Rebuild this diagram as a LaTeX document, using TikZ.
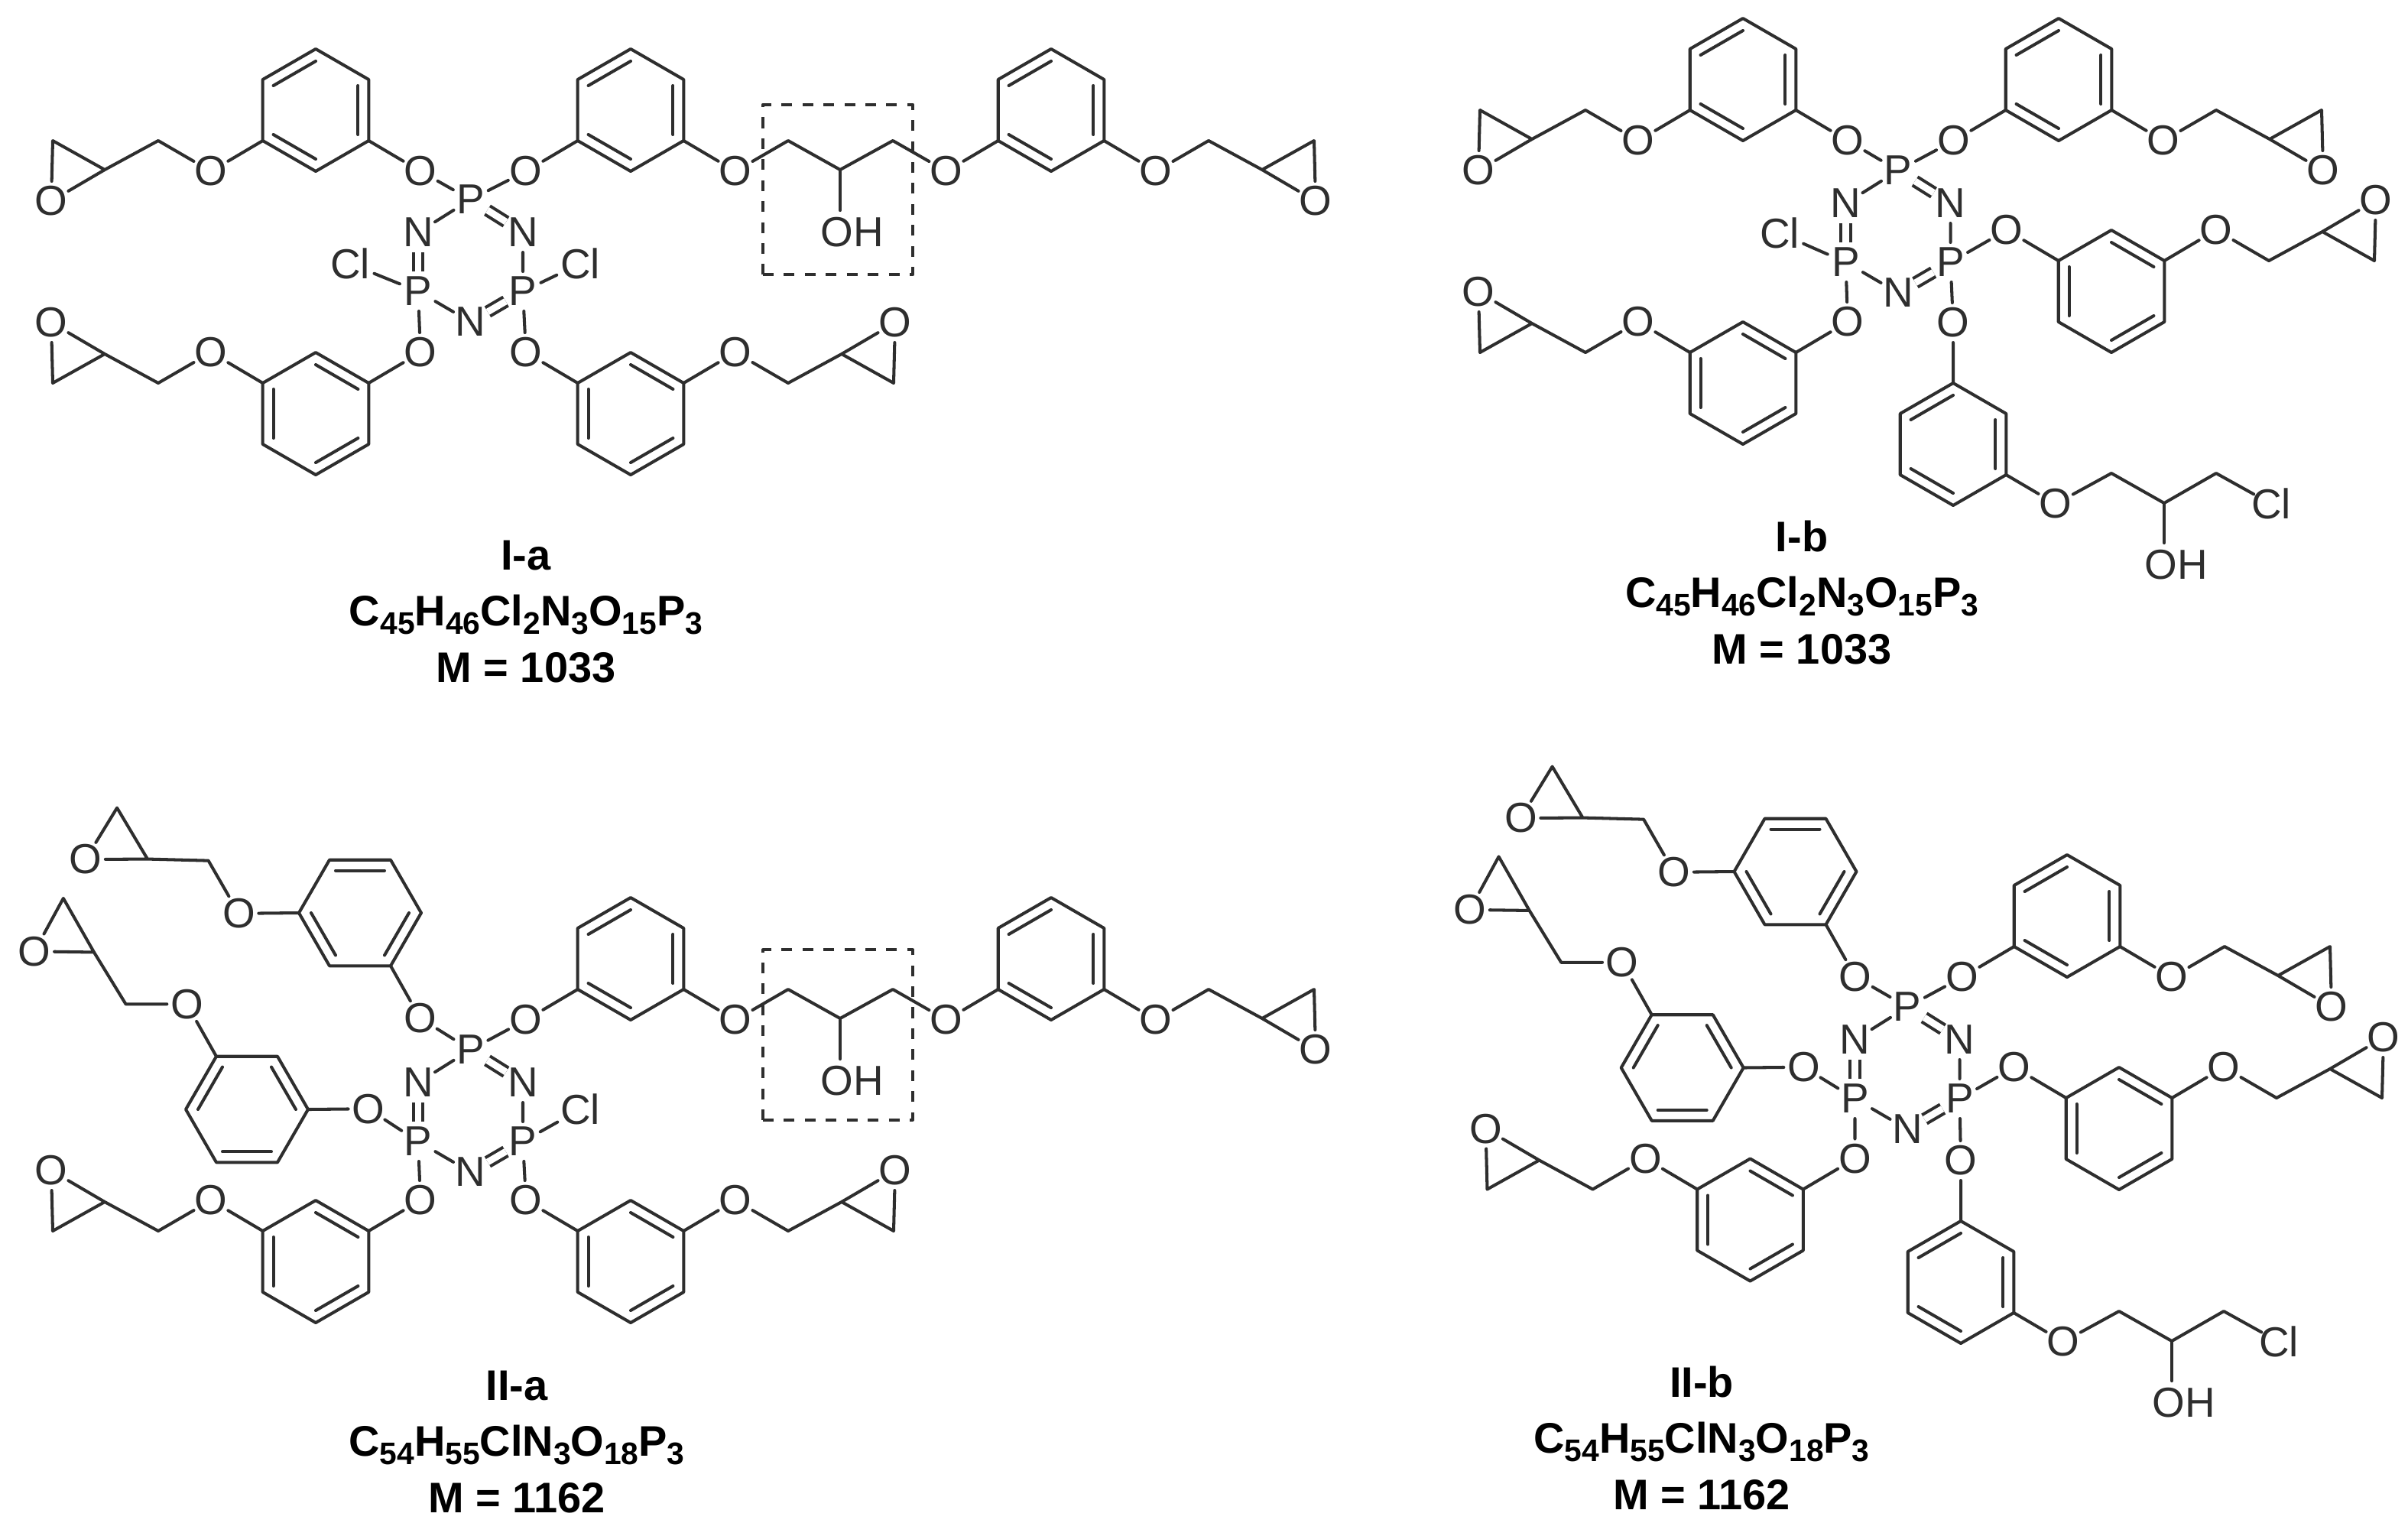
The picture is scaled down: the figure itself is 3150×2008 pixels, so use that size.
\documentclass[tikz,border=0pt]{standalone}
\usepackage{fontspec}
\setmainfont{Liberation Sans}
\definecolor{inkline}{gray}{0.18}
\tikzset{
	bond/.style={draw=inkline, line width=1.15pt},
	dbl/.style={bond, line cap=butt, double=white, double distance=2.5pt},
	atom/.style={circle, inner sep=-2pt, outer sep=0pt, minimum size=0.52cm, text=inkline, font=\fontsize{15.6}{18}\selectfont},
	chlor/.style={atom, minimum size=0.68cm},
	hydroxy/.style={inner sep=2.5pt, text=inkline, font=\fontsize{15.6}{18}\selectfont},
	dashbox/.style={draw=inkline, line width=1.15pt, line cap=butt, dash pattern=on 4pt off 3.8pt, minimum width=1.96cm, minimum height=2.22cm},
	molcap/.style={anchor=base, inner sep=0pt, font=\fontsize{15.9}{20}\selectfont\bfseries},
}
\newcommand{\sbs}[1]{\raisebox{-0.2em}{\fontsize{11.6}{14}\selectfont #1}}
\def\dbA{-30,90,210} \def\dbB{30,150,270} % inner lines of the ring
\newcommand{\benzring}[2]{
	\foreach \a in {30,90,...,330} \coordinate (#1v\a) at (\a:80);
	\draw[bond] (#1v30)--(#1v90)--(#1v150)--(#1v210)--(#1v270)--(#1v330)--cycle;
	\foreach \a in #2 \draw[bond] (\a:64)--(\a+60:64);
}
% name, ring centre, transform, inner lines, epoxide O corner, epoxide C corner
\newcommand{\epoxyarm}[6]{
	\begin{scope}[shift={#2},#3]
		\benzring{#1}{#4}
		\node[atom] (#1a) at (137,80) {O};
		\node[atom] (#1b) at (-137,80) {O};
		\coordinate (#1c) at (-206,40);
		\coordinate (#1d) at (-276,78);
		\coordinate (#1p) at (-344,40);
		\coordinate (#1q) at (-346,119);
		\node[atom] (#1e) at (#1#5) {O};
		\coordinate (#1f) at (#1#6);
		\draw[bond] (#1v30)--(#1a) (#1v150)--(#1b)--(#1c)--(#1d)--(#1f)--(#1e)--(#1d);
	\end{scope}
}
% name, ring centre, O of the next ring
\newcommand{\hydroxylink}[3]{
	\begin{scope}[shift={#2},xscale=-1]
		\benzring{#1}{\dbB}
		\node[atom] (#1a) at (137,80) {O};
		\node[atom] (#1b) at (-137,80) {O};
		\coordinate (#1c) at (-206,40);
		\coordinate (#1d) at (-274,78);
		\coordinate (#1e) at (-343,40);
		\node[hydroxy] (#1h) at (-290,160) {OH};
		\draw[bond] (#1v30)--(#1a) (#1v150)--(#1b)--(#1c)--(#1d)--(#1e)--(#3);
		\draw[bond] (#1d)--(#1d |- #1h.north);
	\end{scope}
}
% name, ring centre
\newcommand{\chloroarm}[2]{
	\begin{scope}[shift={#2}]
		\benzring{#1}{\dbA}
		\node[atom] (#1a) at (0,-159) {O};
		\node[atom] (#1b) at (134,78) {O};
		\coordinate (#1c) at (207,38);
		\coordinate (#1d) at (276,77);
		\coordinate (#1e) at (344,38);
		\node[atom] (#1g) at (416,78) {Cl};
		\node[hydroxy] (#1h) at (292,158) {OH};
		\draw[bond] (#1v270)--(#1a) (#1v30)--(#1b)--(#1c)--(#1d)--(#1e)--(#1g);
		\draw[bond] (#1d)--(#1d |- #1h.north);
	\end{scope}
}
% name, centre
\newcommand{\phosring}[2]{
	\begin{scope}[shift={#2}]
		\node[atom] (#1pt) at (0,-80) {P};
		\node[atom] (#1nl) at (-68.5,-37) {N};
		\node[atom] (#1nr) at (68.5,-37) {N};
		\node[atom] (#1pl) at (-68.5,40) {P};
		\node[atom] (#1pr) at (68.5,40) {P};
		\node[atom] (#1nb) at (0,80) {N};
		\draw[bond] (#1pt)--(#1nl) (#1nr)--(#1pr) (#1pl)--(#1nb);
		\draw[dbl] (#1pt)--(#1nr);
		\draw[dbl] (#1nl)--(#1pl);
		\draw[dbl] (#1nb)--(#1pr);
	\end{scope}
}
% name, centre x, first baseline, label, formula, mass
\newcommand{\molnote}[6]{
	\node[molcap] (#1l) at (#2,#3) {#4};
	\node[molcap] (#1f) at (#2,#3+73) {#5};
	\node[molcap] (#1m) at (#2,#3+147) {#6};
}
\begin{document}
\begin{tikzpicture}[x=0.01cm, y=-0.01cm, line join=round, line cap=round]
	\useasboundingbox (0,0) rectangle (3150,2008);
	% I-a
	\phosring{ia}{(615.5,341)}
	\epoxyarm{iaA}{(413,144)}{}{\dbA}{q}{p}
	\epoxyarm{iaC}{(1375,144)}{xscale=-1}{\dbB}{q}{p}
	\epoxyarm{iaD}{(413,541)}{yscale=-1}{\dbB}{q}{p}
	\epoxyarm{iaE}{(825,541)}{rotate=180}{\dbA}{q}{p}
	\hydroxylink{iaB}{(825,144)}{iaCa}
	\node[chlor] (iacl) at (458,345) {Cl};
	\node[chlor] (iacr) at (759,345) {Cl};
	\draw[bond] (iapt)--(iaAa) (iapt)--(iaBa) (iapl)--(iaDa) (iapr)--(iaEa) (iapl)--(iacl) (iapr)--(iacr);
	\node[dashbox] (iabox) at (1096,248) {};
	\molnote{ia}{688}{745}{I-a}{C\sbs{45}H\sbs{46}Cl\sbs{2}N\sbs{3}O\sbs{15}P\sbs{3}}{M = 1033}
	% I-b
	\phosring{ib}{(2483,303)}
	\epoxyarm{ibA}{(2280,104)}{}{\dbA}{q}{p}
	\epoxyarm{ibB}{(2693,104)}{xscale=-1}{\dbB}{q}{p}
	\epoxyarm{ibC}{(2762,381)}{rotate=180}{\dbA}{q}{p}
	\epoxyarm{ibD}{(2280,501)}{yscale=-1}{\dbB}{q}{p}
	\chloroarm{ibE}{(2555,581)}
	\node[chlor] (ibcl) at (2328,305) {Cl};
	\draw[bond] (ibpt)--(ibAa) (ibpt)--(ibBa) (ibpr)--(ibCa) (ibpl)--(ibDa) (ibpr)--(ibEa) (ibpl)--(ibcl);
	\molnote{ib}{2357}{721}{I-b}{C\sbs{45}H\sbs{46}Cl\sbs{2}N\sbs{3}O\sbs{15}P\sbs{3}}{M = 1033}
	% II-a
	\phosring{iia}{(615.5,1453)}
	\epoxyarm{iiaA}{(471,1194)}{rotate=-30}{\dbA}{q}{p}
	\epoxyarm{iiaF}{(323,1451)}{rotate=-30,yscale=-1}{\dbB}{p}{q}
	\epoxyarm{iiaC}{(1375,1254)}{xscale=-1}{\dbB}{q}{p}
	\epoxyarm{iiaD}{(413,1650)}{yscale=-1}{\dbB}{q}{p}
	\epoxyarm{iiaE}{(825,1650)}{rotate=180}{\dbA}{q}{p}
	\hydroxylink{iiaB}{(825,1254)}{iiaCa}
	\node[chlor] (iiacr) at (759,1451) {Cl};
	\draw[bond] (iiapt)--(iiaAa) (iiapt)--(iiaBa) (iiapl)--(iiaFa) (iiapl)--(iiaDa) (iiapr)--(iiaEa) (iiapr)--(iiacr);
	\node[dashbox] (iiabox) at (1096,1353.5) {};
	\molnote{iia}{676}{1831}{II-a}{C\sbs{54}H\sbs{55}ClN\sbs{3}O\sbs{18}P\sbs{3}}{M = 1162}
	% II-b
	\phosring{iib}{(2495,1397)}
	\epoxyarm{iibA}{(2348.5,1140)}{rotate=-30}{\dbA}{q}{p}
	\epoxyarm{iibF}{(2200.7,1396.5)}{rotate=-30,yscale=-1}{\dbB}{p}{q}
	\epoxyarm{iibD}{(2289.5,1595.5)}{yscale=-1}{\dbB}{q}{p}
	\epoxyarm{iibB}{(2704,1198)}{xscale=-1}{\dbB}{q}{p}
	\epoxyarm{iibC}{(2772,1476)}{rotate=180}{\dbA}{q}{p}
	\chloroarm{iibE}{(2565,1677)}
	\draw[bond] (iibpt)--(iibAa) (iibpt)--(iibBa) (iibpl)--(iibFa) (iibpl)--(iibDa) (iibpr)--(iibCa) (iibpr)--(iibEa);
	\molnote{iib}{2226}{1827}{II-b}{C\sbs{54}H\sbs{55}ClN\sbs{3}O\sbs{18}P\sbs{3}}{M = 1162}
\end{tikzpicture}
\end{document}
